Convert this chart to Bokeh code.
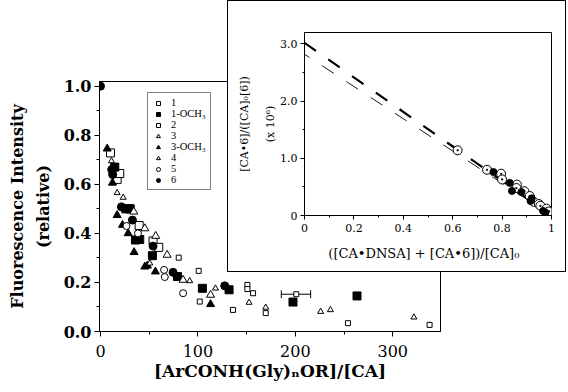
from bokeh.plotting import figure
from bokeh.models import (ColumnDataSource, SingleIntervalTicker, FixedTicker, Whisker, TeeHead,
                          Legend, PrintfTickFormatter)
from bokeh.embed import file_html
from bokeh.resources import INLINE

# ---------------- main plot data ----------------
s1_x = [10.3, 17.1, 19.8, 30.5, 39.7, 54.0, 59.8]
s1_y = [0.728, 0.620, 0.644, 0.500, 0.432, 0.369, 0.343]

s1och3_x = [14.7, 26.0, 30.0, 35.9, 40.3, 53.3, 79.0, 104.6, 132.0, 197.6, 263.3]
s1och3_y = [0.670, 0.500, 0.500, 0.373, 0.375, 0.309, 0.224, 0.176, 0.170, 0.120, 0.145]

s2_x = [80.3, 100.8, 101.9, 136.0, 150.8, 150.8, 156.6, 169.6, 201.0, 254.0, 337.8]
s2_y = [0.301, 0.247, 0.122, 0.088, 0.190, 0.173, 0.156, 0.075, 0.152, 0.034, 0.027]

s3_x = [34.2, 45.5, 56.7, 68.4, 84.8, 113.0]
s3_y = [0.488, 0.420, 0.389, 0.312, 0.210, 0.149]

s3och3_x = [6.9, 12.3, 17.1, 22.6, 28.4, 34.5, 45.5, 48.2, 56.4, 113.0]
s3och3_y = [0.745, 0.606, 0.474, 0.434, 0.400, 0.323, 0.264, 0.268, 0.244, 0.111]

s4_x = [11.3, 17.1, 23.3, 50.6, 91.6, 118.0, 152.5, 169.6, 226.0, 236.0, 321.7]
s4_y = [0.695, 0.565, 0.546, 0.278, 0.206, 0.176, 0.118, 0.098, 0.081, 0.088, 0.058]

s5_x = [26.7, 38.5, 65.3, 66.0, 84.8]
s5_y = [0.430, 0.400, 0.251, 0.222, 0.156]

s6_x = [0.0, 11.5, 12.5, 21.5, 32.8, 54.0, 74.5, 127.5]
s6_y = [1.000, 0.660, 0.640, 0.508, 0.454, 0.348, 0.241, 0.186]

err_y = [0.152]
err_lo = [185.6]
err_hi = [215.7]

legend_labels = ["1", "1-OCH\u2083", "2", "3", "3-OCH\u2083", "4", "5", "6"]

# ---------------- inset data ----------------
open_x = [0.62, 0.739, 0.796, 0.80, 0.86, 0.858, 0.89, 0.912, 0.928, 0.949, 0.955, 0.98, 0.99]
open_y = [1.14, 0.80, 0.73, 0.63, 0.54, 0.48, 0.425, 0.34, 0.24, 0.20, 0.17, 0.12, 0.07]
fill_x = [0.765, 0.831, 0.84, 0.878, 0.915, 0.92, 0.966, 0.975]
fill_y = [0.76, 0.57, 0.43, 0.41, 0.255, 0.30, 0.08, 0.05]
fit_x = [0.0, 1.0]
fit_thick_y = [3.02, 0.0]
fit_thin_y = [2.82, 0.0]

SERIF = "DejaVu Serif"

# ---------------- main figure ----------------
p = figure(width=566, height=390, x_range=(-1, 349), y_range=(0, 1.019),
           output_backend="svg", toolbar_location=None,
           min_border_left=99, min_border_right=126, min_border_top=81, min_border_bottom=59)
p.xgrid.visible = False
p.ygrid.visible = False
p.outline_line_color = "black"
p.outline_line_width = 1
p.background_fill_color = "white"

p.xaxis.ticker = SingleIntervalTicker(interval=100, num_minor_ticks=2)
p.yaxis.ticker = SingleIntervalTicker(interval=0.2, num_minor_ticks=2)
p.yaxis.formatter = PrintfTickFormatter(format="%.1f")
for ax in (p.xaxis[0], p.yaxis[0]):
    ax.axis_line_color = "black"
    ax.major_tick_line_color = "black"
    ax.minor_tick_line_color = "black"
    ax.major_tick_in = 0
    ax.major_tick_out = 5
    ax.minor_tick_in = 0
    ax.minor_tick_out = 3
    ax.major_label_text_font = SERIF
    ax.major_label_text_color = "black"
    ax.axis_label_text_font = SERIF
    ax.axis_label_text_font_style = "bold"
    ax.axis_label_text_color = "black"

p.xaxis.major_label_text_font_size = "16px"
p.xaxis.major_label_standoff = 8
p.xaxis.axis_label = "[ArCONH(Gly)\u2099OR]/[CA]"
p.xaxis.axis_label_text_font_size = "17px"
p.xaxis.axis_label_standoff = 1

p.yaxis.major_label_text_font_size = "16px"
p.yaxis.major_label_text_font_style = "bold"
p.yaxis.major_label_standoff = 3
p.yaxis.axis_label = "Fluorescence Intensity\n(relative)"
p.yaxis.axis_label_text_font_size = "16px"
p.yaxis.axis_label_text_line_height = 1.35
p.yaxis.axis_label_standoff = 8

r1 = p.scatter(s1_x, s1_y, marker="square", size=8, fill_color="white", line_color="black")
r2 = p.scatter(s1och3_x, s1och3_y, marker="square", size=8, fill_color="black", line_color="black")
r3 = p.scatter(s2_x, s2_y, marker="square", size=5, fill_color="white", line_color="black")
r4 = p.scatter(s3_x, s3_y, marker="triangle", size=8, fill_color="white", line_color="black")
r5 = p.scatter(s3och3_x, s3och3_y, marker="triangle", size=8, fill_color="black", line_color="black")
r6 = p.scatter(s4_x, s4_y, marker="triangle", size=6, fill_color="white", line_color="black")
r7 = p.scatter(s5_x, s5_y, marker="circle", size=7, fill_color="white", line_color="black")
r8 = p.scatter(s6_x, s6_y, marker="circle", size=8, fill_color="black", line_color="black")

err_src = ColumnDataSource(dict(y=err_y, lo=err_lo, hi=err_hi))
p.add_layout(Whisker(source=err_src, base="y", lower="lo", upper="hi", dimension="width",
                     line_color="black", line_width=1,
                     lower_head=TeeHead(size=8, line_color="black"),
                     upper_head=TeeHead(size=8, line_color="black")))

legend = Legend(items=[(lab, [r]) for lab, r in zip(legend_labels, [r1, r2, r3, r4, r5, r6, r7, r8])],
                location=(48, 141), label_text_font="Liberation Serif", label_text_font_size="10.5px",
                label_text_color="black",
                glyph_height=10, glyph_width=12, label_height=10, spacing=0, padding=4, margin=0,
                label_standoff=7, border_line_color="black", border_line_width=1,
                background_fill_color="white", background_fill_alpha=1.0)
p.add_layout(legend, "center")

# ---------------- inset figure ----------------
q = figure(width=339, height=272, x_range=(0, 1.0), y_range=(0, 3.2),
           output_backend="svg", toolbar_location=None,
           min_border_left=76, min_border_right=16, min_border_top=31, min_border_bottom=58,
           styles={"position": "absolute", "left": "227px", "top": "0px",
                   "border": "1px solid black", "background": "white"})
q.xgrid.visible = False
q.ygrid.visible = False
q.outline_line_color = "black"
q.outline_line_width = 1

q.xaxis.ticker = FixedTicker(ticks=[0, 0.2, 0.4, 0.6, 0.8, 1.0],
                             minor_ticks=[0.1, 0.3, 0.5, 0.7, 0.9])
q.yaxis.ticker = FixedTicker(ticks=[0, 1, 2, 3], minor_ticks=[0.5, 1.5, 2.5])
q.xaxis.major_label_overrides = {0: "0"}
q.yaxis.major_label_overrides = {0: "0", 1: "1.0", 2: "2.0", 3: "3.0"}
for ax in (q.xaxis[0], q.yaxis[0]):
    ax.axis_line_color = "black"
    ax.major_tick_line_color = "black"
    ax.minor_tick_line_color = "black"
    ax.major_tick_in = 0
    ax.major_tick_out = 4
    ax.minor_tick_in = 0
    ax.minor_tick_out = 2
    ax.major_label_text_font = SERIF
    ax.major_label_text_font_size = "11px"
    ax.major_label_text_color = "black"
    ax.axis_label_text_font = SERIF
    ax.axis_label_text_font_size = "11px"
    ax.axis_label_text_font_style = "normal"
    ax.axis_label_text_color = "black"

q.xaxis.major_label_standoff = 4
q.xaxis.axis_label = "([CA\u2022DNSA]  +  [CA\u20226])/[CA]\u2080"
q.xaxis.axis_label_text_font_size = "13px"
q.xaxis.axis_label_standoff = 11
q.yaxis.major_label_standoff = 3
q.yaxis.axis_label = "[CA\u20226]/([CA]\u2080[6])\n(x 10\u2076)"
q.yaxis.axis_label_text_line_height = 2.0
q.yaxis.axis_label_standoff = 0

q.line(fit_x, fit_thick_y, line_color="black", line_width=2.2, line_dash="14 15")
q.line(fit_x, fit_thin_y, line_color="black", line_width=0.9, line_dash="14 15", line_dash_offset=8)
q.scatter(open_x, open_y, marker="circle_dot", size=9, fill_color="white", line_color="black")
q.scatter(fill_x, fill_y, marker="circle", size=7, fill_color="black", line_color="black")

open("out.html", "w").write(file_html([p, q], INLINE))
